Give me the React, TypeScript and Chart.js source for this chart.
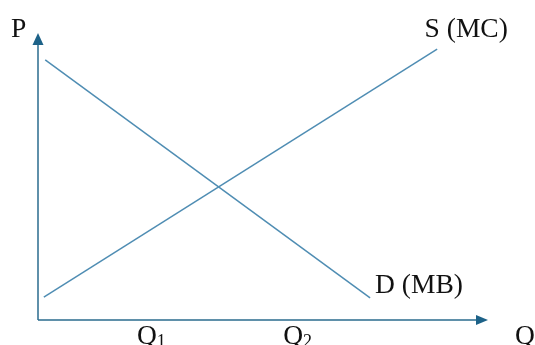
import React, { useEffect, useRef } from "react";
import { Chart, registerables } from "chart.js";

Chart.register(...registerables);

// Demand (MB) and Supply (MC) lines, in quantity / price units (0-100)
const demandQ = [1.6, 73.8];
const demandP = [90.6, 7.7];
const supplyQ = [1.3, 88.7];
const supplyP = [8.0, 94.4];

// Quantity tick labels and their positions on Q axis
const qTickLabels = ["Q", "Q"];
const qTickSubs = ["1", "2"];
const qTickPos = [22.0, 54.5];

const LINE_COLOR = "#4f8db3";
const AXIS_COLOR = "#2b6c8e";
const ARROW_COLOR = "#1d6288";
const FONT = '"Liberation Serif", "DejaVu Serif", serif';

const overlay = {
  id: "econOverlay",
  afterDraw(chart: any) {
    const { ctx, chartArea } = chart;
    const xs = chart.scales.x;
    const ys = chart.scales.y;
    const ox = xs.getPixelForValue(0);
    const oy = ys.getPixelForValue(0);
    const topY = chartArea.top;
    const rightX = chartArea.right;
    ctx.save();
    // axes
    ctx.strokeStyle = AXIS_COLOR;
    ctx.lineWidth = 1.5;
    ctx.beginPath();
    ctx.moveTo(ox, oy);
    ctx.lineTo(ox, topY + 8);
    ctx.moveTo(ox, oy);
    ctx.lineTo(rightX - 8, oy);
    ctx.stroke();
    // arrow heads
    ctx.fillStyle = ARROW_COLOR;
    ctx.beginPath();
    ctx.moveTo(ox, topY);
    ctx.lineTo(ox - 5.5, topY + 12);
    ctx.lineTo(ox + 5.5, topY + 12);
    ctx.closePath();
    ctx.fill();
    ctx.beginPath();
    ctx.moveTo(rightX, oy);
    ctx.lineTo(rightX - 12, oy - 5);
    ctx.lineTo(rightX - 12, oy + 5);
    ctx.closePath();
    ctx.fill();

    // labels
    ctx.fillStyle = "#111";
    ctx.textBaseline = "alphabetic";
    ctx.textAlign = "left";
    ctx.font = `27.5px ${FONT}`;
    ctx.fillText("P", ox - 27, topY + 4);
    ctx.fillText("Q", rightX + 27, oy + 24);
    ctx.fillText("S (MC)", xs.getPixelForValue(85.9), ys.getPixelForValue(98.6));
    ctx.fillText("D (MB)", xs.getPixelForValue(74.9), ys.getPixelForValue(9.4));
    for (let i = 0; i < qTickLabels.length; i++) {
      const x = xs.getPixelForValue(qTickPos[i]);
      ctx.font = `27.5px ${FONT}`;
      ctx.fillText(qTickLabels[i], x, oy + 24);
      const w = ctx.measureText(qTickLabels[i]).width;
      ctx.font = `18px ${FONT}`;
      ctx.fillText(qTickSubs[i], x + w, oy + 27);
    }
    ctx.restore();
  },
};

export default function App() {
  const ref = useRef<HTMLCanvasElement | null>(null);
  useEffect(() => {
    document.body.style.margin = "0";
    const canvas = ref.current!;
    const chart = new Chart(canvas, {
      type: "scatter",
      data: {
        datasets: [
          {
            label: "D (MB)",
            data: demandQ.map((q, i) => ({ x: q, y: demandP[i] })),
            showLine: true,
            borderColor: LINE_COLOR,
            borderWidth: 1.5,
            pointRadius: 0,
          },
          {
            label: "S (MC)",
            data: supplyQ.map((q, i) => ({ x: q, y: supplyP[i] })),
            showLine: true,
            borderColor: LINE_COLOR,
            borderWidth: 1.5,
            pointRadius: 0,
          },
        ],
      },
      options: {
        animation: false,
        responsive: false,
        devicePixelRatio: 1,
        layout: { padding: { left: 38, right: 47, top: 33, bottom: 25 } },
        plugins: { legend: { display: false }, tooltip: { enabled: false } },
        scales: {
          x: { type: "linear", min: 0, max: 100, display: false },
          y: { type: "linear", min: 0, max: 100, display: false },
        },
      },
      plugins: [overlay],
    });
    return () => chart.destroy();
  }, []);
  return <canvas ref={ref} width={535} height={345} style={{ display: "block" }} />;
}
